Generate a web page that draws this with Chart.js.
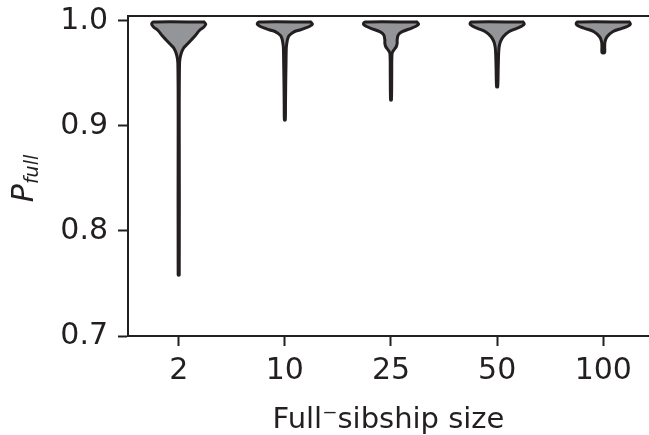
<!DOCTYPE html>
<html>
<head>
<meta charset="utf-8">
<script src="https://cdn.jsdelivr.net/npm/chart.js@4.4.0/dist/chart.umd.min.js"></script>
<style>
  html, body { margin: 0; padding: 0; background: #fff; }
</style>
</head>
<body>
<canvas id="violinChart" width="649" height="435"></canvas>
<script>
// Categorias do eixo x
const categories = ['2', '10', '25', '50', '100'];
const yTickValues = [0.7, 0.8, 0.9, 1.0];

// Perfis dos violinos: níveis de P_full e meia-largura (unidades de categoria)
const p2 = [0.999, 0.997, 0.994, 0.991, 0.986, 0.982, 0.978, 0.974, 0.9676, 0.96, 0.90, 0.758];
const w2 = [0.24, 0.255, 0.235, 0.195, 0.155, 0.118, 0.082, 0.045, 0.019, 0.008, 0.005, 0.005];

const p10 = [0.999, 0.997, 0.995, 0.993, 0.9914, 0.990, 0.988, 0.986, 0.984, 0.981, 0.975, 0.96, 0.94, 0.92, 0.9057];
const w10 = [0.245, 0.26, 0.235, 0.185, 0.141, 0.093, 0.061, 0.04, 0.03, 0.022, 0.014, 0.011, 0.008, 0.006, 0.004];

const p25 = [0.999, 0.997, 0.995, 0.993, 0.9898, 0.9867, 0.982, 0.9788, 0.9755, 0.9724, 0.969, 0.95, 0.9248];
const w25 = [0.245, 0.26, 0.235, 0.19, 0.106, 0.068, 0.058, 0.058, 0.049, 0.027, 0.01, 0.007, 0.004];

const p50 = [0.999, 0.997, 0.995, 0.993, 0.9898, 0.985, 0.9803, 0.9755, 0.969, 0.955, 0.9373];
const w50 = [0.245, 0.255, 0.23, 0.185, 0.11, 0.057, 0.031, 0.019, 0.014, 0.01, 0.005];

const p100 = [0.999, 0.997, 0.995, 0.993, 0.9898, 0.985, 0.9803, 0.975, 0.970];
const w100 = [0.245, 0.255, 0.23, 0.175, 0.088, 0.035, 0.016, 0.013, 0.012];

const xTitle = 'Full\u207Bsibship size';
const yTitleMain = 'P';
const yTitleSub = 'full';

const FONT = '"DejaVu Sans"';
const INK = '#231f20';

// Monta o polígono de cada violino (lado direito descendo, lado esquerdo subindo)
const profiles = [[p2, w2], [p10, w10], [p25, w25], [p50, w50], [p100, w100]];
const datasets = profiles.map(([p, w], i) => {
  const right = p.map((v, k) => ({ x: i + w[k], y: v }));
  const left = p.map((v, k) => ({ x: i - w[k], y: v })).reverse();
  const pts = right.concat(left);
  pts.push(pts[0]);
  return {
    label: categories[i],
    data: pts,
    showLine: true,
    fill: 'shape',
    backgroundColor: '#939598',
    borderColor: INK,
    borderWidth: 3,
    borderJoinStyle: 'round',
    borderCapStyle: 'round',
    pointRadius: 0,
    tension: 0.3
  };
});

// Linha superior do quadro e título do eixo y com subscrito (P_full)
const framePlugin = {
  id: 'frame',
  afterDraw(chart) {
    const { ctx, chartArea } = chart;
    ctx.save();
    ctx.strokeStyle = INK;
    ctx.lineWidth = 2;
    ctx.beginPath();
    ctx.moveTo(chartArea.left - 1, chartArea.top);
    ctx.lineTo(chartArea.right, chartArea.top);
    ctx.stroke();

    ctx.fillStyle = INK;
    ctx.textBaseline = 'alphabetic';
    ctx.textAlign = 'left';
    ctx.font = 'italic 30px ' + FONT;
    const wMain = ctx.measureText(yTitleMain).width;
    ctx.font = 'italic 19px ' + FONT;
    const wSub = ctx.measureText(yTitleSub).width;
    const cy = (chartArea.top + chartArea.bottom) / 2 + 2.5;
    ctx.translate(33, cy + (wMain + wSub) / 2);
    ctx.rotate(-Math.PI / 2);
    ctx.font = 'italic 30px ' + FONT;
    ctx.fillText(yTitleMain, 0, 0);
    ctx.font = 'italic 19px ' + FONT;
    ctx.fillText(yTitleSub, wMain, 5);
    ctx.restore();
  }
};

new Chart(document.getElementById('violinChart'), {
  type: 'scatter',
  data: { datasets },
  plugins: [framePlugin],
  options: {
    responsive: false,
    animation: false,
    devicePixelRatio: 1,
    layout: { padding: { top: 16, left: 0, right: 0, bottom: 0 } },
    plugins: { legend: { display: false }, tooltip: { enabled: false } },
    scales: {
      x: {
        type: 'linear',
        min: -0.4776,
        max: 4.4305,
        afterBuildTicks: s => { s.ticks = categories.map((c, i) => ({ value: i })); },
        afterFit: s => { s.height = 99; s.paddingLeft = 0; s.paddingRight = 0; },
        ticks: {
          callback: (v, i) => categories[i],
          font: { family: FONT, size: 30 },
          color: INK,
          padding: 7,
          maxRotation: 0
        },
        grid: { drawOnChartArea: false, drawTicks: true, tickLength: 10, tickWidth: 2, tickColor: INK },
        border: { display: true, color: INK, width: 2 },
        title: {
          display: true,
          text: xTitle,
          font: { family: FONT, size: 29 },
          color: INK,
          padding: { top: 0, bottom: -3 }
        }
      },
      y: {
        min: 0.7,
        max: 1.00476,
        afterBuildTicks: s => { s.ticks = yTickValues.map(v => ({ value: v })); },
        afterFit: s => { s.width = 128; s.paddingTop = 0; s.paddingBottom = 0; },
        ticks: {
          callback: v => v.toFixed(1),
          font: { family: FONT, size: 30 },
          color: INK,
          padding: 10
        },
        grid: { drawOnChartArea: false, drawTicks: true, tickLength: 10, tickWidth: 2, tickColor: INK },
        border: { display: true, color: INK, width: 2 }
      }
    }
  }
});
</script>
</body>
</html>
